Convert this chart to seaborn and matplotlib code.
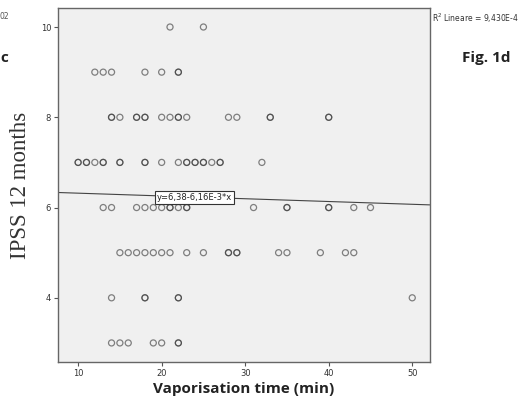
import numpy as np
import pandas as pd
import seaborn as sns
import matplotlib.pyplot as plt

# vaporisation time (min) per IPSS score row
# (repeated values = darker, overlapping markers)
ipss_10 = [21, 25]
ipss_9 = [12, 13, 14, 18, 20, 22, 22]
ipss_8 = [14, 14, 15, 17, 17, 18, 18, 20, 21, 22, 22, 23, 28, 29, 33, 33, 40, 40]
ipss_7 = [10, 10, 11, 11, 12, 13, 13, 15, 15, 18, 18, 20, 22, 23, 23, 24, 24,
          25, 25, 26, 27, 27, 32]
ipss_6 = [13, 14, 17, 18, 19, 20, 21, 21, 22, 23, 23, 31, 35, 35, 40, 40, 43, 45]
ipss_5 = [15, 16, 17, 18, 19, 20, 21, 23, 25, 28, 28, 29, 29, 34, 35, 39, 42, 43]
ipss_4 = [14, 18, 18, 22, 22, 50]
ipss_3 = [14, 15, 16, 19, 20, 22, 22]

# fitted line shown on the chart
intercept = 6.38
slope = -6.16e-3

rows = {10: ipss_10, 9: ipss_9, 8: ipss_8, 7: ipss_7, 6: ipss_6, 5: ipss_5, 4: ipss_4, 3: ipss_3}
data = pd.DataFrame([(t, s) for s, ts in rows.items() for t in ts], columns=['time', 'ipss'])

sns.set_style("white")

fig = plt.figure(figsize=(5.28, 4.03), dpi=100)
ax = fig.add_axes([0.110, 0.102, 0.704, 0.878])
ax.set_facecolor('#f0f0f0')

sns.scatterplot(data=data, x='time', y='ipss', ax=ax, marker='o', s=19,
                facecolor='none', edgecolor='#333333', linewidth=0.9, alpha=0.6)

xline = np.array([7.6, 52.1])
ax.plot(xline, intercept + slope * xline, color='#444444', linewidth=0.8)

ax.set_xlim(7.6, 52.1)
ax.set_ylim(2.58, 10.42)
ax.set_xticks([10, 20, 30, 40, 50])
ax.set_yticks([4, 6, 8, 10])
ax.tick_params(axis='both', direction='out', length=3, width=0.8, color='#555555',
               labelsize=6, labelcolor='#333333', pad=2)
ax.tick_params(left=True, bottom=True)
for sp in ax.spines.values():
    sp.set_color('#666666')
    sp.set_linewidth(1.0)

ax.set_xlabel('Vaporisation time (min)', fontsize=11, fontweight='bold',
              family='Open Sans', color='#222222', labelpad=3)
ax.set_ylabel('IPSS 12 months', fontsize=16.5, family='Liberation Serif',
              color='#333333')
ax.yaxis.set_label_coords(-0.072, 0.5)

ax.text(23.9, 6.22, 'y=6,38-6,16E-3*x', fontsize=6, color='#222222', va='center', ha='center',
        bbox=dict(boxstyle='square,pad=0.25', facecolor='white', edgecolor='#333333', linewidth=0.8))

fig.text(0.818, 0.955, 'R$^2$ Lineare = 9,430E-4', fontsize=5.5, color='#333333', va='center')
fig.text(0.875, 0.857, 'Fig. 1d', fontsize=11, fontweight='bold', family='Open Sans',
         color='#222222', va='center')
fig.text(0.0, 0.857, 'c', fontsize=11, fontweight='bold', family='Open Sans',
         color='#222222', va='center')
fig.text(0.0, 0.960, '02', fontsize=5.5, color='#555555', va='center')

fig.savefig('out.png', dpi=100)
